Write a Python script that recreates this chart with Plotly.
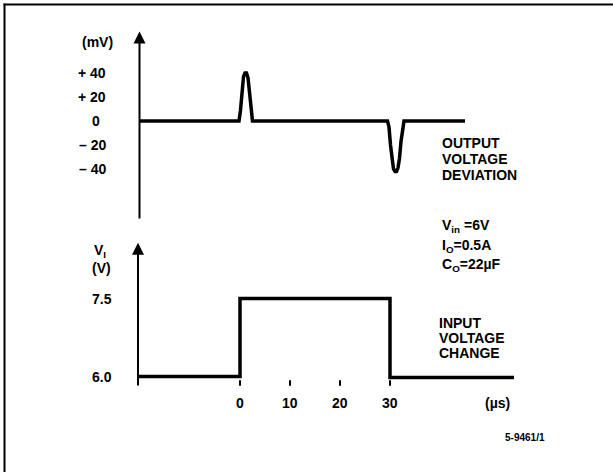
import plotly.graph_objects as go

# ---------------- data ----------------
# Output voltage deviation (mV) vs time (us)
out_t = [-20.1, -0.2, 0.1, 0.4, 0.7, 1.0, 1.3, 1.6, 1.9, 2.2, 2.5, 29.5, 29.8, 30.1, 30.4, 30.7,
         31.0, 31.3, 31.6, 31.9, 32.2, 32.5, 32.8, 45.0]
out_mv = [0, 0, 9, 26, 37, 40, 40, 36, 24, 9, 0, 0, -5, -20, -33, -40,
          -42, -42, -39, -31, -17, -5, 0, 0]

# Input voltage change (V) vs time (us)
in_t = [-20.4, 0, 0, 30, 30, 54.8]
in_v = [6.0, 6.0, 7.5, 7.5, 5.98, 5.98]

# tick labels
top_ticks = [40, 20, 0, -20, -40]
top_tick_text = ["+ 40", "+ 20", "0", "\u2013 20", "\u2013 40"]
bot_ticks = [7.5, 6.0]
bot_tick_text = ["7.5", "6.0"]
time_ticks = [0, 10, 20, 30]
time_tick_text = ["0", "10", "20", "30"]

W, H = 613, 472
# axes scales: 5 px per us with t=0 at x=240 px
X_RANGE = [-48.0, -48.0 + W / 5.0]
# top: 0 mV at y=121 px, 1.2 px per mV
Y1_RANGE = [(121 - H) / 1.2, 121 / 1.2]
# bottom: 6.0 V at y=376.5 px, 52 px per V
Y2_RANGE = [6.0 - (H - 376.5) / 52.0, 6.0 + 376.5 / 52.0]


def px(x):
    return x / W


def py(y):
    return 1 - y / H


FONT = dict(family="Liberation Sans, Arial, sans-serif", size=14, color="black", weight="bold")
SMALL = dict(family="Liberation Sans, Arial, sans-serif", size=10, color="black", weight="bold")

fig = go.Figure()
fig.add_trace(go.Scatter(x=out_t, y=out_mv, mode="lines", xaxis="x", yaxis="y",
                         line=dict(color="black", width=3.5), hoverinfo="skip"))
fig.add_trace(go.Scatter(x=in_t, y=in_v, mode="lines", xaxis="x", yaxis="y2",
                         line=dict(color="black", width=3.5, shape="linear"), hoverinfo="skip"))

# time tick marks under the input trace
tk_x, tk_y = [], []
for t in time_ticks:
    tk_x += [t, t, None]
    tk_y += [5.93, 5.82, None]
fig.add_trace(go.Scatter(x=tk_x, y=tk_y, mode="lines", xaxis="x", yaxis="y2",
                         line=dict(color="black", width=2), hoverinfo="skip"))

ann = []
# vertical axes with arrows
ann.append(dict(x=-20.1, y=74.5, xref="x", yref="y", ax=-20.1, ay=-82.5, axref="x", ayref="y",
                showarrow=True, arrowhead=2, arrowsize=1.2, arrowwidth=2, arrowcolor="black", text=""))
ann.append(dict(x=-20.4, y=8.57, xref="x", yref="y2", ax=-20.4, ay=5.80, axref="x", ayref="y2",
                showarrow=True, arrowhead=2, arrowsize=1.2, arrowwidth=2, arrowcolor="black", text=""))

# tick labels
for v, s in zip(top_ticks, top_tick_text):
    ann.append(dict(x=-28.8 if v == 0 else -29.6, y=v, xref="x", yref="y", text=s, showarrow=False,
                    font=FONT, xanchor="center", yanchor="middle"))
for v, s in zip(bot_ticks, bot_tick_text):
    ann.append(dict(x=-27.6, y=v, xref="x", yref="y2", text=s, showarrow=False,
                    font=FONT, xanchor="center", yanchor="middle"))
for v, s in zip(time_ticks, time_tick_text):
    ann.append(dict(x=v, y=py(403), xref="paper" if False else "x", yref="paper", text=s, showarrow=False,
                    font=FONT, xanchor="center", yanchor="middle"))

texts = [
    ("(mV)", 97.5, 42, "center", FONT),
    ("V<sub>I</sub>", 100, 251, "center", FONT),
    ("(V)", 101, 268, "center", FONT),
    ("(\u00b5s)", 497, 403, "center", FONT),
    ("OUTPUT", 440, 143, "left", FONT),
    ("VOLTAGE", 440, 159, "left", FONT),
    ("DEVIATION", 440, 175, "left", FONT),
    ("V<sub>in</sub> =6V", 440, 226, "left", FONT),
    ("I<sub>O</sub>=0.5A", 440, 246, "left", FONT),
    ("C<sub>O</sub>=22\u00b5F", 440, 265, "left", FONT),
    ("INPUT", 437, 323, "left", FONT),
    ("VOLTAGE", 437, 338, "left", FONT),
    ("CHANGE", 437, 353, "left", FONT),
    ("5-9461/1", 525, 437, "center", SMALL),
]
for s, x, y, xa, f in texts:
    ann.append(dict(x=px(x), y=py(y), xref="paper", yref="paper", text=s, showarrow=False,
                    font=f, xanchor=xa, yanchor="middle"))

shapes = [
    dict(type="line", xref="paper", yref="paper", x0=px(3.5), x1=px(W), y0=py(4.5), y1=py(4.5),
         line=dict(color="black", width=2)),
    dict(type="line", xref="paper", yref="paper", x0=px(4.5), x1=px(4.5), y0=py(3.5), y1=0,
         line=dict(color="black", width=2)),
]

fig.update_layout(
    width=W, height=H, margin=dict(l=0, r=0, t=0, b=0),
    paper_bgcolor="white", plot_bgcolor="white", showlegend=False,
    xaxis=dict(range=X_RANGE, domain=[0, 1], visible=False, fixedrange=True),
    yaxis=dict(range=Y1_RANGE, domain=[0, 1], visible=False, fixedrange=True),
    yaxis2=dict(range=Y2_RANGE, domain=[0, 1], visible=False, overlaying="y", fixedrange=True),
    annotations=ann, shapes=shapes,
)

fig.write_html("out.html", config={"displayModeBar": False},
               post_script="document.body.style.margin='0';document.body.style.overflow='hidden';")
